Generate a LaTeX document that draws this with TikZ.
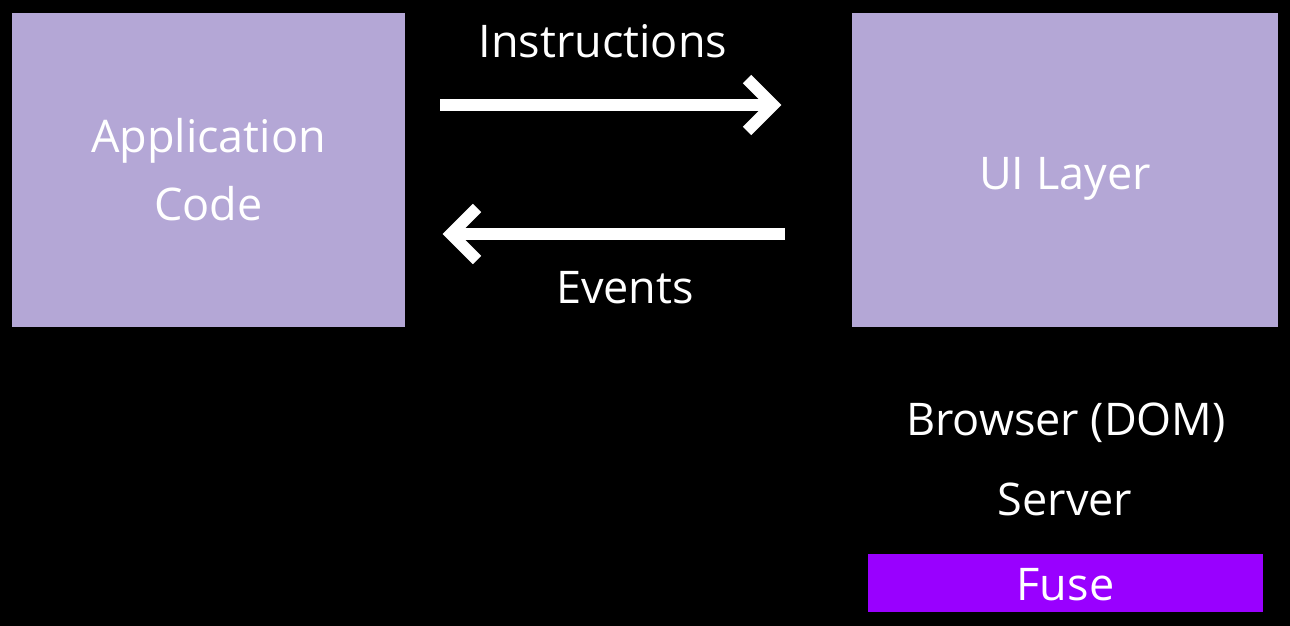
\documentclass[tikz,border=0pt]{standalone}
\usepackage{fontspec}
\setmainfont{Open Sans}
\usetikzlibrary{calc}
\definecolor{lav}{HTML}{B4A7D6}
\definecolor{fusec}{HTML}{9900FF}
\begin{document}
\begin{tikzpicture}[x=1pt,y=-1pt,
  box/.style={fill=lav, draw=none, inner sep=0pt, outer sep=0pt, anchor=north west,
              text=white, align=center, font=\fontsize{45}{68}\selectfont},
  lbl/.style={text=white, font=\fontsize{45}{68}\selectfont, anchor=base, inner sep=0pt},
  arr/.style={draw=white, line width=12pt, line cap=butt},
  chev/.style={draw=white, line width=12pt, line cap=butt, line join=miter},
]
\fill[black] (0,0) rectangle (1290,626);
\useasboundingbox (0,0) rectangle (1290,626);

\node[box, minimum width=393pt, minimum height=314pt] (app) at (12,13) {Application\\Code};
\node[box, minimum width=426pt, minimum height=314pt, text height=38pt, text depth=0pt] (ui) at (852,13) {UI Layer};
\node[box, fill=fusec, minimum width=395pt, minimum height=58pt, text height=35pt, text depth=0pt] (fuse) at (868,554) {Fuse};

\node[lbl] (instr) at (603,58) {Instructions};
\node[lbl] (events) at (625,303) {Events};
\node[lbl] (browser) at (1066,435) {Browser (DOM)};
\node[lbl] (server) at (1065,515) {Server};

\coordinate (i1) at (440,105);
\coordinate (i2) at (773,105);
\coordinate (e1) at (785,234);
\coordinate (e2) at (451,234);

\draw[arr] (i1) -- (i2);
\draw[chev] ($(i2)+(-26,-26)$) -- (i2) -- ($(i2)+(-26,26)$);
\draw[arr] (e1) -- (e2);
\draw[chev] ($(e2)+(26,-26)$) -- (e2) -- ($(e2)+(26,26)$);
\end{tikzpicture}
\end{document}
